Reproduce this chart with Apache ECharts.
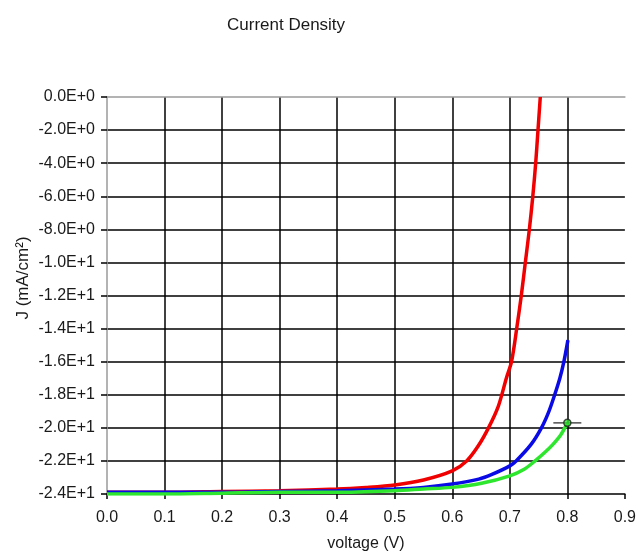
<!DOCTYPE html>
<html><head><meta charset="utf-8">
<script src="https://cdn.jsdelivr.net/npm/echarts@6/dist/echarts.min.js"></script>
<style>html,body{margin:0;padding:0;background:#fff}#c{width:639px;height:557px}</style>
</head><body><div id="c"></div>
<script>
const xTicks = [0,0.1,0.2,0.3,0.4,0.5,0.6,0.7,0.8,0.9];
const yTickLabels = ['-2.4E+1','-2.2E+1','-2.0E+1','-1.8E+1','-1.6E+1','-1.4E+1','-1.2E+1','-1.0E+1','-8.0E+0','-6.0E+0','-4.0E+0','-2.0E+0','0.0E+0'];

const redV = [0,0.1,0.2,0.3,0.4,0.45,0.5,0.55,0.6,0.625,0.645,0.663,0.68,0.694,0.703,0.712,0.720,0.727,0.734,0.740,0.745,0.749,0.753];
const redJ = [-23.9,-23.9,-23.85,-23.8,-23.7,-23.6,-23.45,-23.15,-22.6,-22.0,-21.1,-20.0,-18.7,-17.0,-16.0,-14.0,-12.0,-10.0,-8.0,-6.0,-4.0,-2.0,0];

const blueV = [0,0.1,0.2,0.3,0.4,0.5,0.55,0.6,0.646,0.67,0.7,0.711,0.737,0.755,0.768,0.778,0.787,0.794,0.801];
const blueJ = [-23.9,-23.9,-23.9,-23.85,-23.8,-23.7,-23.6,-23.4,-23.1,-22.8,-22.3,-22.0,-21.0,-20.0,-19.0,-18.0,-17.0,-16.0,-14.7];

const greenV = [0,0.1,0.2,0.3,0.4,0.5,0.55,0.6,0.651,0.7,0.725,0.744,0.762,0.775,0.789,0.8];
const greenJ = [-24.0,-24.0,-23.95,-23.9,-23.9,-23.8,-23.7,-23.6,-23.35,-22.9,-22.5,-22.0,-21.45,-21.0,-20.4,-19.7];

const cursorPoint = [0.8,-19.7];

const zip = (a,b) => a.map((v,i)=>[v,b[i]]);
const font = 'Liberation Sans, Arial, sans-serif';
const txt = '#1a1a1a';

const chart = echarts.init(document.getElementById('c'), null, {renderer:'canvas'});
chart.setOption({
  animation:false,
  backgroundColor:'#fff',
  title:{text:'Current Density', left:222, top:12, textStyle:{fontFamily:font, fontSize:17, fontWeight:'normal', color:txt}},
  graphic:[{
    type:'text', x:23, y:278, rotation:Math.PI/2,
    style:{text:'J (mA/cm²)', font:'17px ' + font, fill:txt, align:'center', verticalAlign:'middle'}
  }],
  grid:{left:107, right:12, top:97, bottom:60, containLabel:false},
  xAxis:[{
    type:'value', min:0, max:0.9, interval:0.1,
    name:'voltage (V)', nameLocation:'middle', nameGap:42,
    nameTextStyle:{fontFamily:font, fontSize:16, color:txt},
    axisLine:{show:true, onZero:false, lineStyle:{color:'#000', width:1.5}},
    axisTick:{show:true, length:5, lineStyle:{color:'#000', width:1.5}},
    axisLabel:{fontFamily:font, fontSize:16, color:txt, margin:16, formatter:v=>v.toFixed(1)},
    splitLine:{show:true, showMinLine:false, showMaxLine:false, lineStyle:{color:'#000', width:1.5}}
  },{
    type:'value', min:0, max:0.9, position:'top',
    axisLine:{show:true, lineStyle:{color:'#9a9a9a', width:1.5}},
    axisTick:{show:false}, axisLabel:{show:false}, splitLine:{show:false}
  }],
  yAxis:{
    type:'value', min:-24, max:0, interval:2,
    axisLine:{show:true, lineStyle:{color:'#9a9a9a', width:1.5}},
    axisTick:{show:true, length:6, lineStyle:{color:'#000', width:1.5}},
    axisLabel:{fontFamily:font, fontSize:16, color:txt, margin:12,
      formatter:v=>yTickLabels[Math.round((v+24)/2)]},
    splitLine:{show:true, showMinLine:false, showMaxLine:false, lineStyle:{color:'#000', width:1.5}}
  },
  series:[
    {type:'line', data:zip(redV,redJ), smooth:0.3, showSymbol:false, lineStyle:{color:'#f00000', width:3.5}, z:3},
    {type:'line', data:zip(blueV,blueJ), smooth:0.3, showSymbol:false, lineStyle:{color:'#0a0ae6', width:3.5}, z:4},
    {type:'line', data:zip(greenV,greenJ), smooth:0.3, showSymbol:false, lineStyle:{color:'#2ee62e', width:3.5}, z:5},
    {type:'scatter', data:[cursorPoint], symbol:'rect', symbolSize:[28,1.5], itemStyle:{color:'#222'}, z:6, silent:true},
    {type:'scatter', data:[cursorPoint], symbol:'circle', symbolSize:7, itemStyle:{color:'#2ee62e', borderColor:'#222', borderWidth:1.5}, z:7, silent:true}
  ]
});
</script></body></html>
